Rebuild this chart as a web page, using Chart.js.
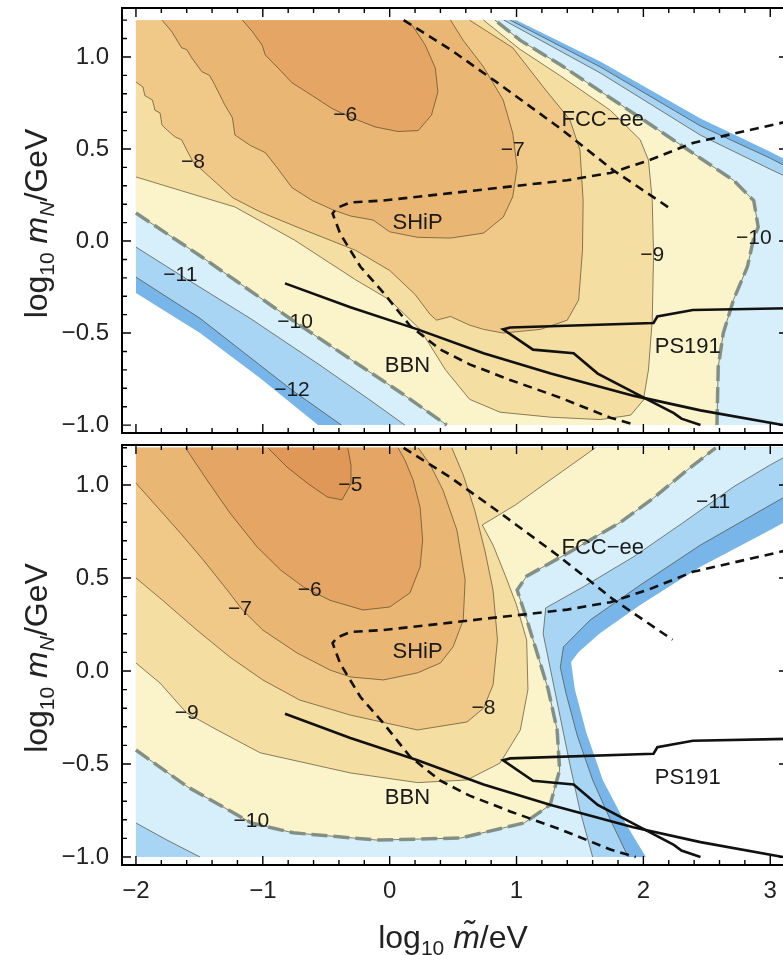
<!DOCTYPE html>
<html><head><meta charset="utf-8">
<script src="https://cdn.jsdelivr.net/npm/chart.js@4.4.1/dist/chart.umd.min.js"></script>
<style>
html,body{margin:0;padding:0;background:#fff;overflow:hidden;}
#wrap{position:relative;width:783px;height:955px;overflow:hidden;background:#fff;}
#c1{position:absolute;left:0;top:0;}
#c2{position:absolute;left:0;top:440px;}
</style></head><body>
<div id="wrap"><canvas id="c1" width="800" height="440"></canvas><canvas id="c2" width="800" height="515"></canvas></div>
<script>
// ---------------- DATA ----------------
const X_TICKS = [-2, -1, 0, 1, 2, 3];
const Y_TICKS = [-1, -0.5, 0, 0.5, 1];
const DOMAIN = {x0: -2, x1: 3.14, y0: -1, y1: 1.2};

// band colours (region above level L and below L+1)
const BAND_COLORS = {
  '-13': 'rgb(120,182,234)', '-12': 'rgb(168,213,243)', '-11': 'rgb(214,239,250)',
  '-10': 'rgb(251,243,202)', '-9': 'rgb(245,222,162)', '-8': 'rgb(240,201,136)',
  '-7': 'rgb(234,182,116)', '-6': 'rgb(229,166,101)', '-5': 'rgb(223,152,88)'
};

// ---- upper panel contour lines (x = log10 m~/eV, y = log10 mN/GeV)
const T_L6 = [[-1.16,1.2],[-1.085,1.14],[-1.006,1.065],[-0.98,1.01],[-0.88,0.94],[-0.77,0.86],[-0.61,0.79],[-0.455,0.72],[-0.30,0.67],[-0.115,0.62],[0.066,0.595],[0.225,0.60],[0.33,0.685],[0.38,0.81],[0.36,0.94],[0.28,1.065],[0.18,1.17],[0.12,1.2]];
const T_L7 = [[-1.795,1.2],[-1.72,1.14],[-1.64,1.05],[-1.60,1.04],[-1.56,0.995],[-1.48,0.92],[-1.42,0.90],[-1.38,0.85],[-1.30,0.74],[-1.24,0.67],[-1.22,0.576],[-1.10,0.52],[-0.98,0.48],[-0.90,0.41],[-0.77,0.29],[-0.61,0.22],[-0.45,0.17],[-0.31,0.136],[-0.13,0.114],[0.0,0.05],[0.22,0.02],[0.48,0.016],[0.74,0.043],[0.895,0.13],[0.97,0.24],[1.005,0.40],[0.97,0.587],[0.895,0.766],[0.74,0.946],[0.58,1.09],[0.48,1.2]];
const T_L8 = [[-2.0,0.864],[-1.945,0.837],[-1.93,0.79],[-1.87,0.766],[-1.85,0.71],[-1.81,0.696],[-1.795,0.63],[-1.75,0.60],[-1.69,0.565],[-1.64,0.55],[-1.60,0.495],[-1.55,0.43],[-1.39,0.33],[-1.235,0.234],[-1.02,0.158],[-0.71,0.07],[-0.27,-0.05],[0.0,-0.16],[0.2,-0.29],[0.32,-0.40],[0.37,-0.43],[0.48,-0.41],[0.63,-0.457],[0.74,-0.48],[0.895,-0.50],[1.19,-0.48],[1.40,-0.43],[1.49,-0.32],[1.52,-0.05],[1.525,0.22],[1.50,0.495],[1.42,0.66],[1.23,0.82],[0.97,1.05],[0.63,1.2]];
const T_L9 = [[-2.0,0.348],[-1.22,0.185],[-0.75,0.005],[-0.27,-0.21],[0.0,-0.32],[0.24,-0.48],[0.44,-0.70],[0.63,-0.86],[0.87,-0.93],[1.265,-0.957],[1.66,-0.97],[1.90,-0.946],[2.0,-0.864],[2.04,-0.70],[2.07,-0.43],[2.08,-0.076],[2.07,0.22],[2.04,0.44],[1.975,0.55],[1.74,0.71],[1.34,0.90],[1.03,1.04],[0.74,1.2]];
const T_L10a = [[-2.0,0.152],[-1.495,-0.08],[-0.746,-0.44],[-0.27,-0.66],[0.08,-0.82],[0.45,-1.0]];
const T_L10b = [[2.58,-1.0],[2.59,-0.685],[2.63,-0.5],[2.71,-0.32],[2.82,-0.14],[2.87,0.016],[2.905,0.076],[2.87,0.22],[2.71,0.33],[2.45,0.45],[1.975,0.67],[1.34,0.96],[1.03,1.09],[0.83,1.2]];
const T_L11a = [[-2.0,-0.033],[-1.65,-0.185],[-1.10,-0.42],[-0.55,-0.674],[-0.155,-0.864],[0.12,-1.0]];
const T_L11b = [[0.90,1.2],[1.66,0.913],[2.45,0.575],[3.0,0.39],[3.14,0.345]];
const T_L12a = [[-2.0,-0.196],[-1.495,-0.42],[-0.77,-0.81],[-0.38,-1.0]];
const T_L12b = [[0.95,1.2],[1.66,0.946],[2.45,0.625],[3.0,0.45],[3.14,0.40]];
const T_L13a = [[-2.0,-0.283],[-1.495,-0.5],[-1.02,-0.745],[-0.565,-1.0]];
const T_L13b = [[1.0,1.2],[1.66,0.975],[2.45,0.665],[3.0,0.485],[3.14,0.435]];

// ---- lower panel contour lines
const B_L5 = [[-0.96,1.2],[-0.81,1.097],[-0.65,1.01],[-0.49,0.935],[-0.375,0.92],[-0.31,1.0],[-0.305,1.107],[-0.33,1.2]];
const B_L6 = [[-1.61,1.2],[-1.44,1.027],[-1.26,0.85],[-1.045,0.667],[-0.86,0.543],[-0.68,0.452],[-0.47,0.38],[-0.21,0.328],[0.0,0.344],[0.16,0.42],[0.24,0.56],[0.26,0.704],[0.24,0.88],[0.185,1.027],[0.12,1.134],[0.066,1.2]];
const B_L7 = [[-2.0,1.01],[-1.83,0.88],[-1.65,0.742],[-1.47,0.597],[-1.28,0.435],[-1.16,0.328],[-1.0,0.22],[-0.73,0.097],[-0.47,0.005],[-0.31,-0.032],[-0.05,-0.048],[0.22,-0.01],[0.40,0.043],[0.50,0.13],[0.58,0.274],[0.595,0.49],[0.53,0.758],[0.42,0.973],[0.32,1.108],[0.225,1.2]];
const B_L8 = [[-2.0,0.5],[-1.79,0.38],[-1.52,0.22],[-1.26,0.075],[-1.0,-0.048],[-0.71,-0.156],[-0.31,-0.237],[0.22,-0.317],[0.61,-0.274],[0.74,-0.2],[0.815,-0.075],[0.85,0.167],[0.815,0.435],[0.75,0.65],[0.67,0.866],[0.58,1.054],[0.49,1.2]];
const B_L9 = [[-2.0,0.043],[-1.81,-0.065],[-1.6,-0.226],[-1.36,-0.317],[-1.02,-0.44],[-0.31,-0.548],[0.22,-0.60],[0.61,-0.586],[0.87,-0.495],[1.03,-0.317],[1.09,-0.10],[1.08,0.167],[1.00,0.355],[0.91,0.516],[0.815,0.677],[0.73,0.785],[0.99,0.892],[1.265,1.027],[1.54,1.16],[1.62,1.2]];
const B_L10 = [[-2.0,-0.425],[-1.59,-0.624],[-1.09,-0.817],[-0.76,-0.87],[-0.10,-0.909],[0.56,-0.898],[1.06,-0.817],[1.265,-0.72],[1.34,-0.532],[1.32,-0.317],[1.25,-0.10],[1.155,0.113],[1.07,0.30],[1.005,0.435],[1.08,0.51],[1.42,0.64],[1.82,0.80],[2.08,0.93],[2.345,1.08],[2.57,1.2]];
const B_L11a = [[-2.0,-0.817],[-1.755,-0.909],[-1.495,-1.0]];
const B_L11b = [[1.60,-1.0],[1.50,-0.75],[1.42,-0.5],[1.345,-0.25],[1.27,0.0],[1.21,0.2],[1.23,0.339],[1.525,0.452],[1.92,0.613],[2.31,0.796],[2.71,0.99],[3.0,1.108],[3.14,1.16]];
const B_L12 = [[1.88,-1.0],[1.74,-0.8],[1.60,-0.586],[1.48,-0.35],[1.39,-0.12],[1.345,0.02],[1.37,0.13],[1.58,0.274],[1.975,0.462],[2.45,0.677],[3.0,0.892],[3.14,0.946]];
const B_L13 = [[2.02,-1.0],[1.86,-0.82],[1.68,-0.586],[1.55,-0.33],[1.46,-0.10],[1.43,0.048],[1.49,0.102],[1.66,0.204],[1.975,0.355],[2.45,0.56],[3.0,0.758],[3.14,0.81]];

// ---- experimental sensitivity curves (same in both panels)
const SHIP = [[3.14,0.65],[2.39,0.533],[2.05,0.44],[1.74,0.37],[1.40,0.33],[0.87,0.29],[0.48,0.26],[-0.05,0.22],[-0.31,0.21],[-0.415,0.18],[-0.45,0.15],[-0.39,0.04],[-0.23,-0.14],[-0.05,-0.28],[0.16,-0.46],[0.40,-0.59],[0.63,-0.67],[0.95,-0.755],[1.34,-0.85],[1.74,-0.96],[1.94,-1.0]];
const FCC = [[0.11,1.2],[0.48,1.04],[0.87,0.85],[1.34,0.614],[1.76,0.386],[2.23,0.168]];
const BBN = [[-0.825,-0.23],[-0.31,-0.36],[0.22,-0.48],[0.74,-0.61],[1.27,-0.72],[1.92,-0.84],[2.45,-0.92],[3.1,-1.0]];
const PS191 = [[3.14,-0.365],[2.39,-0.375],[2.11,-0.41],[2.08,-0.445],[0.95,-0.47],[0.894,-0.48],[1.13,-0.59],[1.45,-0.61],[1.64,-0.72],[2.03,-0.86],[2.24,-0.935],[2.3,-0.965],[2.45,-1.0]];

// ---- text labels
const EXP_LABELS = [['SHiP',0.22,0.10],['BBN',0.14,-0.68],['PS191',2.35,-0.576],['FCC\u2212ee',1.68,0.66]];
const TOP_CONTOUR_LABELS = [['\u22126',-0.35,0.685],['\u22127',0.97,0.495],['\u22128',-1.55,0.43],['\u22129',2.07,-0.076],['\u221210',2.87,0.016],['\u221210',-0.746,-0.44],['\u221211',-1.65,-0.185],['\u221212',-0.77,-0.81]];
const BOT_CONTOUR_LABELS = [['\u22125',-0.31,1.0],['\u22126',-0.63,0.435],['\u22127',-1.18,0.33],['\u22128',0.74,-0.2],['\u22129',-1.6,-0.226],['\u221210',-1.09,-0.81],['\u221211',2.55,0.91]];

// ---------------- BUILD ----------------
const FONT = '"Liberation Sans", Arial, Helvetica, sans-serif';
const TL = [DOMAIN.x0, DOMAIN.y1], BL = [DOMAIN.x0, DOMAIN.y0], TR = [DOMAIN.x1, DOMAIN.y1], BR = [DOMAIN.x1, DOMAIN.y0];
const rev = a => a.slice().reverse();
const pts = a => a.map(([x, y]) => ({x, y}));

const TOP_FILLS = [
  ['-13', [...T_L13a, BR, ...rev(T_L13b), TL]],
  ['-12', [...T_L12a, BR, ...rev(T_L12b), TL]],
  ['-11', [...T_L11a, BR, ...rev(T_L11b), TL]],
  ['-10', [...T_L10a, ...T_L10b, TL]],
  ['-9', [...T_L9, TL]],
  ['-8', [...T_L8, TL]],
  ['-7', T_L7],
  ['-6', T_L6]
];
const TOP_LINES = [T_L6, T_L7, T_L8, T_L9, T_L10a, T_L10b, T_L11a, T_L11b, T_L12a, T_L12b];
const TOP_OBS = [T_L10a, T_L10b];

const BOT_FILLS = [
  ['-13', [TL, BL, ...B_L13, TR]],
  ['-12', [TL, BL, ...B_L12, TR]],
  ['-11', [TL, ...B_L11a, ...B_L11b, TR]],
  ['-10', [...B_L10, TL]],
  ['-9', [...B_L9, TL]],
  ['-8', [...B_L8, TL]],
  ['-7', [...B_L7, TL]],
  ['-6', B_L6],
  ['-5', B_L5]
];
const BOT_LINES = [B_L5, B_L6, B_L7, B_L8, B_L9, B_L10, B_L11a, B_L11b, B_L12];
const BOT_OBS = [B_L10];

function buildDatasets(fills, lines, obs) {
  const ds = [];
  fills.forEach(([lvl, poly]) => ds.push({data: pts(poly), fill: 'shape', backgroundColor: BAND_COLORS[lvl], borderColor: 'rgba(0,0,0,0)', borderWidth: 0, pointRadius: 0, tension: 0}));
  lines.forEach(l => ds.push({data: pts(l), fill: false, borderColor: 'rgba(70,58,30,0.62)', borderWidth: 1, pointRadius: 0, tension: 0}));
  obs.forEach(l => ds.push({data: pts(l), fill: false, borderColor: 'rgba(128,140,130,0.95)', borderWidth: 3.5, borderDash: [16, 6], pointRadius: 0, tension: 0}));
  ds.push({data: pts(BBN), fill: false, borderColor: '#111', borderWidth: 2.6, pointRadius: 0, tension: 0});
  ds.push({data: pts(PS191), fill: false, borderColor: '#111', borderWidth: 2.6, pointRadius: 0, tension: 0});
  ds.push({data: pts(SHIP), fill: false, borderColor: '#111', borderWidth: 2.6, borderDash: [9, 6], pointRadius: 0, tension: 0});
  ds.push({data: pts(FCC), fill: false, borderColor: '#111', borderWidth: 2.6, borderDash: [9, 6], pointRadius: 0, tension: 0});
  const n = ds.length;
  ds.forEach((d, i) => { d.order = n - i; });
  return ds;
}

const fmt = (v, dec) => { const s = Math.abs(v).toFixed(dec); return (v < -1e-9 ? '\u2212' : '') + s; };

function drawRich(ctx, parts, cx, cy, rotate) {
  ctx.save();
  ctx.translate(cx, cy);
  if (rotate) ctx.rotate(-Math.PI / 2);
  let total = 0;
  parts.forEach(p => { ctx.font = (p.italic ? 'italic ' : '') + p.size + 'px ' + FONT; p.w = ctx.measureText(p.t).width; total += p.w; });
  let x = -total / 2;
  ctx.fillStyle = '#222';
  ctx.textBaseline = 'alphabetic';
  ctx.textAlign = 'left';
  parts.forEach(p => { ctx.font = (p.italic ? 'italic ' : '') + p.size + 'px ' + FONT; ctx.fillText(p.t, x, 11 + (p.dy || 0)); x += p.w; });
  ctx.restore();
}

const framePlugin = {
  id: 'frame',
  afterDatasetsDraw(chart, args, opts) {
    const {ctx, chartArea: a, scales: {x, y}} = chart;
    ctx.save();
    // labels
    ctx.fillStyle = '#1a1a1a';
    ctx.textAlign = 'center';
    ctx.textBaseline = 'middle';
    ctx.font = '21px ' + FONT;
    opts.contourLabels.forEach(([t, vx, vy]) => ctx.fillText(t, x.getPixelForValue(vx), y.getPixelForValue(vy)));
    ctx.font = '22px ' + FONT;
    EXP_LABELS.forEach(([t, vx, vy]) => ctx.fillText(t, x.getPixelForValue(vx), y.getPixelForValue(vy)));
    // ticks (inward)
    ctx.strokeStyle = '#000';
    ctx.lineWidth = 1.4;
    ctx.beginPath();
    for (let k = -10; k <= 15; k++) {
      const v = k * 0.2;
      const major = k % 5 === 0;
      const len = major ? 9 : 5;
      const px = x.getPixelForValue(v);
      if (px < a.left || px > a.right) continue;
      ctx.moveTo(px, a.top); ctx.lineTo(px, a.top + len);
      ctx.moveTo(px, a.bottom); ctx.lineTo(px, a.bottom - len);
    }
    for (let k = -10; k <= 12; k++) {
      const v = k * 0.1;
      const major = k % 5 === 0;
      const len = major ? 9 : 5;
      const py = y.getPixelForValue(v);
      if (py < a.top || py > a.bottom) continue;
      ctx.moveTo(a.left, py); ctx.lineTo(a.left + len, py);
      ctx.moveTo(a.right, py); ctx.lineTo(a.right - len, py);
    }
    ctx.stroke();
    ctx.lineWidth = 2;
    ctx.strokeRect(a.left, a.top, a.right - a.left, a.bottom - a.top);
    // axis titles
    const ytitle = [{t: 'log', size: 32}, {t: '10', size: 21, dy: 7}, {t: ' ', size: 32}, {t: 'm', size: 32, italic: true}, {t: 'N', size: 21, italic: true, dy: 7}, {t: '/GeV', size: 32}];
    drawRich(ctx, ytitle, 36, (a.top + a.bottom) / 2 + 3, true);
    if (opts.xTitle) {
      const xt = [{t: 'log', size: 32}, {t: '10', size: 21, dy: 7}, {t: ' ', size: 32}, {t: 'm\u0303', size: 32, italic: true}, {t: '/eV', size: 32}];
      drawRich(ctx, xt, (a.left + a.right) / 2 - 2, a.bottom + 72, false);
    }
    ctx.restore();
  }
};

function makeChart(id, cfg) {
  return new Chart(document.getElementById(id), {
    type: 'line',
    data: {datasets: cfg.datasets},
    plugins: [framePlugin],
    options: {
      responsive: false, animation: false, events: [],
      layout: {padding: {top: cfg.padTop, right: 12, bottom: 0, left: 0}},
      plugins: {legend: {display: false}, tooltip: {enabled: false}, frame: {contourLabels: cfg.labels, xTitle: cfg.showX}},
      scales: {
        x: {
          type: 'linear', min: -2.11, max: 3.14,
          grid: {display: false}, border: {display: false},
          afterBuildTicks: s => { s.ticks = X_TICKS.map(v => ({value: v})); },
          ticks: {display: cfg.showX, autoSkip: false, maxRotation: 0, padding: 4, color: '#222', font: {size: 24, family: FONT}, callback: v => fmt(v, 0)},
          afterFit: s => { s.height = cfg.xh; s.paddingLeft = 0; s.paddingRight = 0; }
        },
        y: {
          type: 'linear', min: cfg.ymin, max: cfg.ymax,
          grid: {display: false}, border: {display: false},
          afterBuildTicks: s => { s.ticks = Y_TICKS.map(v => ({value: v})); },
          ticks: {autoSkip: false, padding: 5, color: '#222', font: {size: 24, family: FONT}, callback: v => fmt(v, 1)},
          afterFit: s => { s.width = 122; s.paddingTop = 0; s.paddingBottom = 0; }
        }
      }
    }
  });
}

makeChart('c1', {datasets: buildDatasets(TOP_FILLS, TOP_LINES, TOP_OBS), labels: TOP_CONTOUR_LABELS, padTop: 8, xh: 7, showX: false, ymin: -1.043, ymax: 1.266});
makeChart('c2', {datasets: buildDatasets(BOT_FILLS, BOT_LINES, BOT_OBS), labels: BOT_CONTOUR_LABELS, padTop: 5, xh: 90, showX: true, ymin: -1.043, ymax: 1.215});
</script></body></html>
